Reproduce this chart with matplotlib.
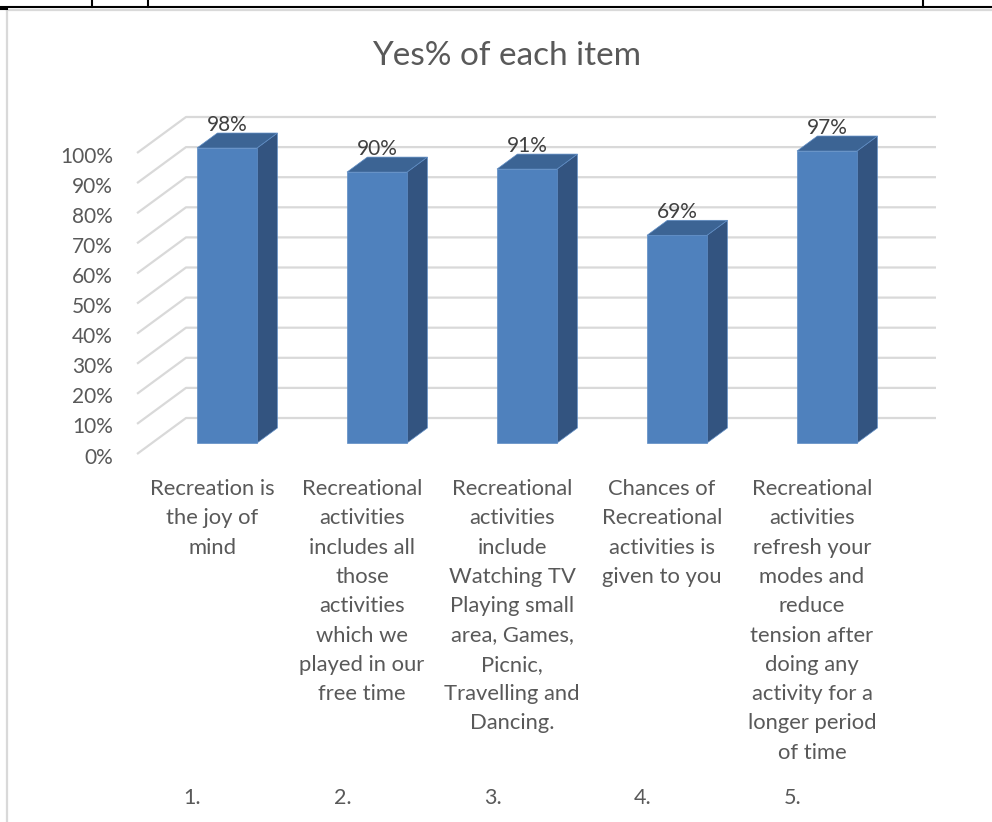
# Yes% of each item - pseudo 3D column chart (Excel style)
import matplotlib
matplotlib.use("Agg")
import matplotlib.pyplot as plt
from matplotlib.lines import Line2D

# -------------------------------
# Data
# -------------------------------
values = [98, 90, 91, 69, 97]
value_labels = ["98%", "90%", "91%", "69%", "97%"]
numbers = ["1.", "2.", "3.", "4.", "5."]
categories = [
    ["Recreation is", "the joy of", "mind"],
    ["Recreational", "activities", "includes all", "those", "activities",
     "which we", "played in our", "free time"],
    ["Recreational", "activities", "include", "Watching TV", "Playing small",
     "area, Games,", "Picnic,", "Travelling and", "Dancing."],
    ["Chances of", "Recreational", "activities is", "given to you"],
    ["Recreational", "activities", "refresh your", "modes and", "reduce",
     "tension after", "doing any", "activity for a", "longer period", "of time"],
]
ticks = list(range(0, 101, 10))
title = "Yes% of each item"

# -------------------------------
# Layout (pixels of the 992x822 picture)
# -------------------------------
W, H = 992, 822
X0, Y0 = 227, 443          # first bar front centre, 0% line of bar fronts
PX_X, PX_Y = 150, 3.01     # px per category, px per percent
DX, DY = 1.36 / PX_X, 1.0 / PX_Y   # one depth pixel in data units
D_FRONT, D_BAR, D_BACK = -11, 15, 25
BAR_W = 0.4

GRID = "#D9D9D9"
TXT = "#595959"
FRONT, SIDE, TOP = "#4F81BD", "#335480", "#3C6494"

plt.rcParams["font.family"] = ["Lato", "DejaVu Sans"]

fig = plt.figure(figsize=(W / 100, H / 100), dpi=100)
ax = fig.add_axes([0, 0, 1, 1])
ax.set_xlim(-X0 / PX_X, (W - X0) / PX_X)
ax.set_ylim((Y0 - H) / PX_Y, Y0 / PX_Y)
ax.axis("off")


def proj(x, y, d):
    return x + d * DX, y + d * DY


def px_to_data(px, py):
    return (px - X0) / PX_X, (Y0 - py) / PX_Y


# walls: side diagonals and back horizontals
left, right = -0.5, 4.5
for t in ticks:
    a = proj(left, t, D_FRONT)
    b = proj(left, t, D_BACK)
    c = proj(right, t, D_BACK)
    ax.plot([a[0], b[0], c[0]], [a[1], b[1], c[1]], color=GRID, lw=1.6,
            solid_capstyle="butt", zorder=1)
    ax.text(a[0] - 24 / PX_X, t - 20.5 / PX_Y, f"{t}%", ha="right",
            va="baseline", fontsize=15, color=TXT)

# bars
for i, v in enumerate(values):
    l, r = i - BAR_W / 2, i + BAR_W / 2
    front = [proj(l, 0, 0), proj(r, 0, 0), proj(r, v, 0), proj(l, v, 0)]
    side = [proj(r, 0, 0), proj(r, 0, D_BAR), proj(r, v, D_BAR), proj(r, v, 0)]
    top = [proj(l, v, 0), proj(r, v, 0), proj(r, v, D_BAR), proj(l, v, D_BAR)]
    for pts, col in [(side, SIDE), (top, TOP), (front, FRONT)]:
        ax.fill([p[0] for p in pts], [p[1] for p in pts], facecolor=col,
                edgecolor="#5E8CC4", lw=0.5, zorder=3)
    ax.text(i, v + D_BAR * DY + 2 / PX_Y, value_labels[i], ha="center",
            va="baseline", fontsize=15, color="#404040", zorder=4)

    # category labels, one line each
    cx = proj(i, 0, D_FRONT)[0]
    for k, line in enumerate(categories[i]):
        ax.text(cx, (Y0 - (495 + k * 29.3)) / PX_Y, line, ha="center",
                va="baseline", fontsize=15.8, color=TXT)
    ax.text(i - 0.23, (Y0 - 804) / PX_Y, numbers[i], ha="center",
            va="baseline", fontsize=15.5, color=TXT)

# title
tx, ty = px_to_data(507, 65)
ax.text(tx, ty, title, ha="center", va="baseline", fontsize=24, color=TXT)

# chart border and surrounding table lines
def fline(xs, ys, **kw):
    fig.add_artist(Line2D([x / W for x in xs], [1 - y / H for y in ys],
                          transform=fig.transFigure, **kw))

fline([7, 7], [10, H], color=GRID, lw=1.6)
fline([7, W], [10, 10], color=GRID, lw=1.6)
fline([0, W], [7, 7], color="black", lw=1.5)
fline([0, 7], [9, 9], color="black", lw=1.5)
for x in [92, 148, 923]:
    fline([x, x], [0, 7], color="black", lw=1.5)

fig.savefig("out.png", dpi=100)
